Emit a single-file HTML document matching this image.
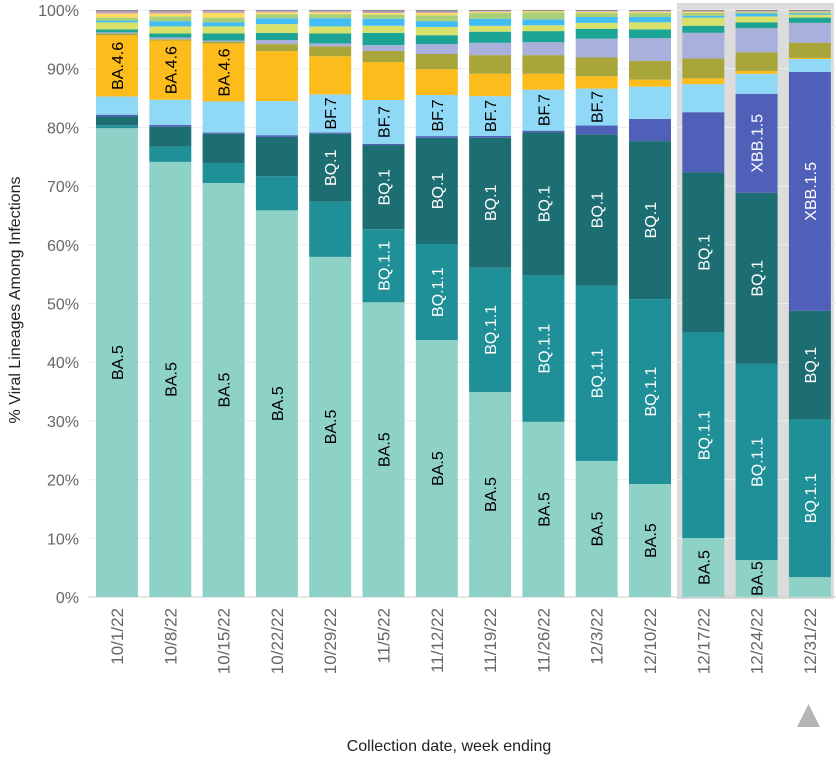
<!DOCTYPE html>
<html><head><meta charset="utf-8"><style>
body{margin:0;background:#fff;width:836px;height:761px;overflow:hidden;font-family:"Liberation Sans",Arial,sans-serif}
</style></head><body>
<svg id="chart" width="836" height="761" xmlns="http://www.w3.org/2000/svg" style="font-family:'Liberation Sans',Arial,sans-serif">
<rect x="677" y="3" width="157" height="596" fill="#dcdcdc"/>
<g id="grid"></g><g id="bars"></g><g id="xlabels"></g><g id="ylabels"></g>
<text transform="translate(20,300) rotate(-90)" text-anchor="middle" font-size="16" fill="#222">% Viral Lineages Among Infections</text>
<text x="449" y="751" text-anchor="middle" font-size="16" fill="#222">Collection date, week ending</text>
<polygon points="797,727 820,727 808.5,704" fill="#b5b5b5"/>
</svg>
<script>
const categories=["10/1/22","10/8/22","10/15/22","10/22/22","10/29/22","11/5/22","11/12/22","11/19/22","11/26/22","12/3/22","12/10/22","12/17/22","12/24/22","12/31/22"];
const seriesNames=["BA.5","BQ.1.1","BQ.1","XBB.1.5","BF.7","BA.4.6","Other1","Other2","Other3","Other4","Other5","Other6","Other7","Other8","Other9"];
const BA5=[79.7,74.2,70.6,65.8,58.0,50.4,43.8,35.0,29.9,23.2,19.3,10.1,6.3,3.4];
const BQ11=[0.5,2.6,3.4,5.8,9.4,12.5,16.4,21.2,25.0,29.9,31.6,35.2,33.5,27.0];
const BQ1=[1.5,3.4,5.0,6.7,11.6,14.4,18.1,22.2,24.4,25.8,27.0,27.4,29.2,18.6];
const XBB15=[0.3,0.3,0.2,0.3,0.2,0.2,0.3,0.3,0.3,1.5,3.8,10.3,16.9,40.9];
const BF7=[3.1,4.3,5.3,5.8,6.5,7.5,7.0,6.8,7.0,6.3,5.5,4.8,3.4,2.2];
const BA46=[10.4,10.1,9.9,8.5,6.5,6.5,4.4,3.8,2.7,2.1,1.2,1.0,0.5,0.2];
const olive=[0.3,0.2,0.3,1.2,1.7,1.9,2.6,3.2,3.2,3.2,3.2,3.4,3.2,2.6];
const lavender=[0.2,0.3,0.2,0.7,0.5,1.0,1.7,2.1,2.2,3.2,3.9,4.4,4.1,3.4];
const teal=[0.5,0.7,1.2,1.2,1.7,2.1,1.5,1.9,1.9,1.7,1.5,1.2,1.0,0.9];
const yellowGreen=[1.2,1.2,1.2,1.5,1.2,1.2,1.4,1.0,1.0,1.0,1.2,1.4,1.0,0.5];
const skyBlue=[0.3,0.9,0.7,1.0,1.4,1.2,1.0,1.2,1.0,1.0,0.9,0.3,0.5,0.2];
const lightGreen=[0.5,0.8,0.8,0.7,0.7,0.7,1.0,1.0,1.2,0.7,0.7,0.5,0.2,0.2];
const yellow=[0.7,0.5,0.8,0.3,0.3,0.3,0.4,0.2,0.2,0.2,0.2,0.2,0.1,0.1];
const pink=[0.3,0.3,0.3,0.2,0.2,0.2,0.2,0.1,0.0,0.1,0.1,0.1,0.1,0.1];
const greyTop=[0.3,0.3,0.2,0.2,0.2,0.3,0.3,0.2,0.2,0.2,0.2,0.2,0.2,0.2];
const yTicks=[0,10,20,30,40,50,60,70,80,90,100];
const yTickLabels=["0%","10%","20%","30%","40%","50%","60%","70%","80%","90%","100%"];

const series=[BA5,BQ11,BQ1,XBB15,BF7,BA46,olive,lavender,teal,yellowGreen,skyBlue,lightGreen,yellow,pink,greyTop];
const colors=["#8ed1c6","#1f9097","#1d6e72","#5060b8","#8fd9f7","#fcbc1c","#a8a63b","#a9b0db","#1ca495","#d8e26b","#42bcf5","#a8d07a","#fddc5f","#c9a0c8","#8e8e8e"];
const labelMin=[5,10,10,12,6,9.5];
const textColor=["#000","#fff","#fff","#fff","#000","#000"];
const NS="http://www.w3.org/2000/svg";
const y0=597,y100=10;
function yScale(v){return y0-(y0-y100)*v/100;}
const bw=42,step=53.3,x0=96;
function xScale(i){return x0+i*step;}
function mk(tag,attrs,parent){const e=document.createElementNS(NS,tag);for(const k in attrs)e.setAttribute(k,attrs[k]);parent.appendChild(e);return e;}
const grid=document.getElementById('grid'),ylab=document.getElementById('ylabels');
yTicks.forEach((t,i)=>{
 const l=mk('line',{x1:88,x2:836,y1:yScale(t),y2:yScale(t),stroke:t===0?'#ccc':'#eeeeee','stroke-width':1},grid);
 
 
 const tx=mk('text',{x:79,y:yScale(t)+6,'text-anchor':'end','font-size':16,fill:'#666'},ylab);
 tx.textContent=yTickLabels[i];
 
 
});
const bars=document.getElementById('bars'),xl=document.getElementById('xlabels');
categories.forEach((c,i)=>{
 let cum=0;
 const total=series.reduce((a,s)=>a+s[i],0);
 series.forEach((s,k)=>{
  const v=s[i]*100/total;
  const yt=yScale(cum+v),yb=yScale(cum);
  const r=mk('rect',{x:xScale(i),y:yt,width:bw,height:Math.max(0,yb-yt),fill:colors[k]},bars);
  
  
  if(k<6 && s[i]>=labelMin[k]){
   const cx=xScale(i)+bw/2+6,cy=(yt+yb)/2;
   const t=mk('text',{transform:`translate(${cx},${cy}) rotate(-90)`,'text-anchor':'middle','font-size':16,fill:textColor[k]},bars);
   t.textContent=seriesNames[k];
   
   
  }
  cum+=v;
 });
 const tx=mk('text',{transform:`translate(${xScale(i)+bw/2+6},608) rotate(-90)`,'text-anchor':'end','font-size':17,fill:'#666'},xl);
 tx.textContent=c;
 
 
});
</script>
</body></html>
